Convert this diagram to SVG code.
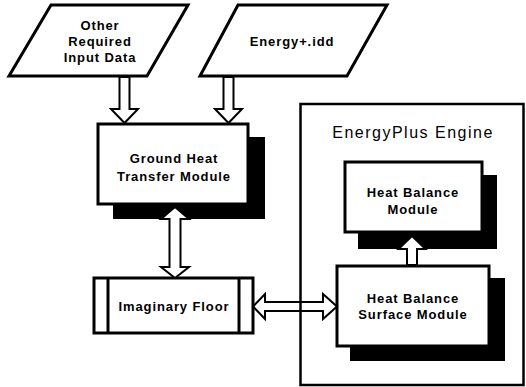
<svg xmlns="http://www.w3.org/2000/svg" width="526" height="387" viewBox="0 0 526 387">
<style>
.box{fill:#fff;stroke:#000;stroke-width:3}
.shadow{fill:#000;stroke:none}
.para{fill:#fff;stroke:#000;stroke-width:3;stroke-linejoin:miter}
.t{font-family:"Liberation Sans",Arial,sans-serif;font-weight:bold;font-size:13px;letter-spacing:0.9px;text-anchor:middle;fill:#000}
.title{font-family:"Liberation Sans",Arial,sans-serif;font-size:16px;letter-spacing:1.5px;text-anchor:middle;fill:#000}
.arrow{fill:#fff;stroke:#000;stroke-width:2;stroke-linejoin:miter}
.arrow-open{fill:none;stroke:#000;stroke-width:2;stroke-linejoin:miter}
</style>
<rect width="526" height="387" fill="#fff"/>
<g id="engine">
<rect x="300.5" y="104" width="223" height="281" fill="#fff" stroke="#000" stroke-width="2.5"/>
<text class="title" x="413" y="138">EnergyPlus Engine</text>
</g>
<g id="other-input">
<polygon class="para" points="51,5 188,5 147,76 9,76"/>
<text class="t" x="100" y="30">Other</text>
<text class="t" x="100" y="46">Required</text>
<text class="t" x="100" y="62">Input Data</text>
</g>
<g id="energy-idd">
<polygon class="para" points="238,5 387,5 347,76 200,76"/>
<text class="t" x="292" y="46">Energy+.idd</text>
</g>
<g id="ground-heat">
<rect class="shadow" x="113" y="137" width="152" height="82"/>
<rect class="box" x="98" y="124" width="150" height="80"/>
<text class="t" x="174" y="163">Ground Heat</text>
<text class="t" x="174" y="181">Transfer Module</text>
</g>
<g id="imaginary-floor">
<rect class="box" x="94" y="278" width="159" height="55"/>
<line x1="108" y1="278" x2="108" y2="333" stroke="#000" stroke-width="3"/>
<line x1="239" y1="278" x2="239" y2="333" stroke="#000" stroke-width="3"/>
<text class="t" x="174" y="311">Imaginary Floor</text>
</g>
<g id="heat-balance">
<rect class="shadow" x="358" y="175" width="139" height="74"/>
<rect class="box" x="345" y="162" width="137" height="70"/>
<text class="t" x="413" y="197">Heat Balance</text>
<text class="t" x="413" y="214">Module</text>
</g>
<g id="surface-module">
<rect class="shadow" x="350" y="278" width="155" height="83"/>
<rect class="box" x="337" y="266" width="152" height="80"/>
<text class="t" x="413" y="303">Heat Balance</text>
<text class="t" x="413" y="319">Surface Module</text>
</g>
<g id="connectors">
<polygon class="arrow" points="119.5,77 129.5,77 129.5,109 138,109 124.5,123 111,109 119.5,109"/>
<polygon class="arrow" points="223.5,77 233.5,77 233.5,109 242,109 228.5,123 215,109 223.5,109"/>
<polygon class="arrow" points="175,207 189,219 180.5,219 180.5,267 189,267 175,278 161,267 169.5,267 169.5,219 161,219"/>
<polygon class="arrow-open" points="253,306.5 265,294 265,302 323,302 323,294 337,306.5 323,319 323,311 265,311 265,319"/>
<polygon class="arrow" points="412,236 425.5,249 417,249 417,265 407,265 407,249 398.5,249"/>
</g>
</svg>
